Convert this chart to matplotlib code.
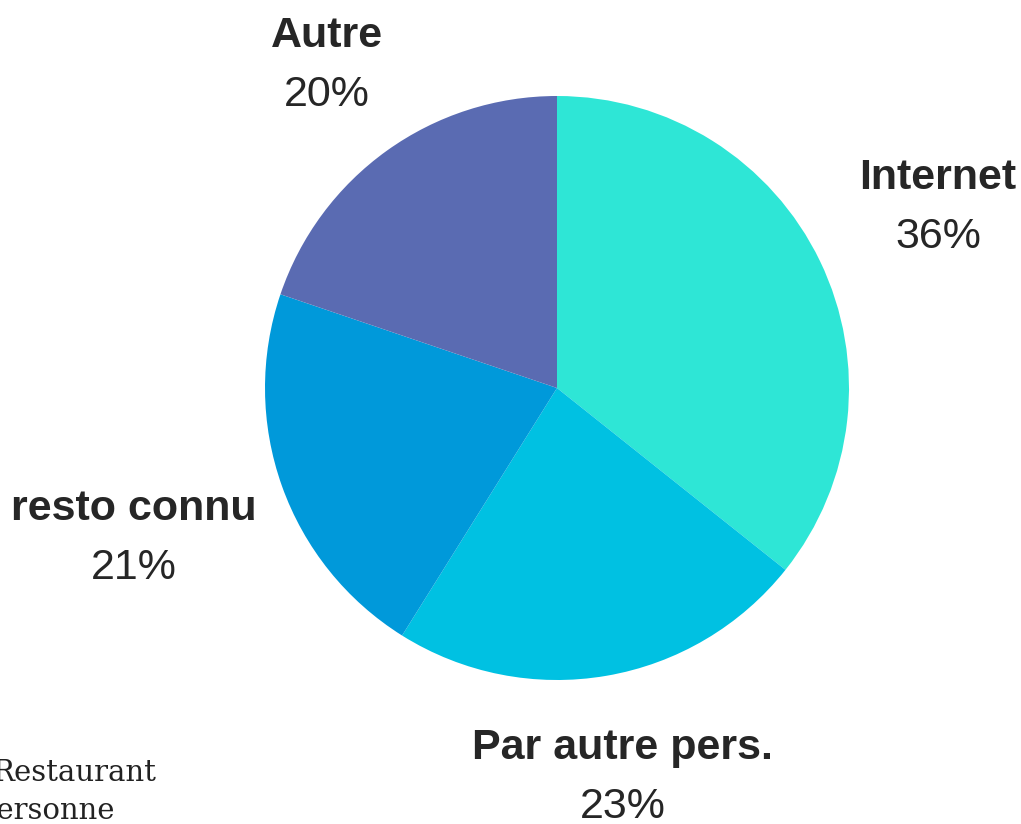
import matplotlib.pyplot as plt

# Data (shares; labels show rounded values)
labels = ['Internet', 'Par autre pers.', 'resto connu', 'Autre']
shares = [35.7, 23.2, 21.3, 19.8]
colors = ['#2ee6d6', '#00c1e2', '#0099da', '#5a6bb2']

# label anchor points (figure pixels, from top-left)
label_px = [(938, 178), (623, 748), (134, 509), (327, 36)]

W, H = 1021, 824
fig = plt.figure(figsize=(W / 100, H / 100), dpi=100)

# pie centre (557, 388), radius 292 px
cx, cy, r = 557, 388, 292
ax = fig.add_axes([(cx - r) / W, (H - cy - r) / H, 2 * r / W, 2 * r / H])
ax.pie(shares, colors=colors, startangle=90, counterclock=False,
       radius=1, wedgeprops=dict(linewidth=0))
ax.set_xlim(-1, 1)
ax.set_ylim(-1, 1)
ax.set_aspect('equal')
ax.axis('off')

# category labels with percentages
for name, val, (px, py) in zip(labels, shares, label_px):
    fig.text(px / W, 1 - py / H, name, ha='center', va='center',
             fontsize=31, fontweight='bold', color='#262626',
             family='Liberation Sans')
    fig.text(px / W, 1 - (py + 59) / H, f'{round(val)}%', ha='center',
             va='center', fontsize=31, color='#262626',
             family='Liberation Sans')

# legend text, cut off at the left edge as in the source
fig.text(-8 / W, 1 - 773 / H, 'Restaurant', ha='left', va='center',
         fontsize=21, color='#222222', family='DejaVu Serif')
fig.text(-22 / W, 1 - 811 / H, 'Personne', ha='left', va='center',
         fontsize=21, color='#222222', family='DejaVu Serif')

fig.savefig('out.png', dpi=100, facecolor='white')
